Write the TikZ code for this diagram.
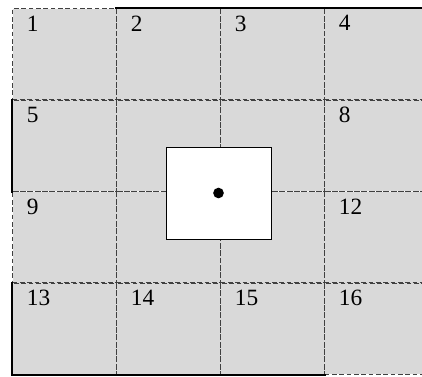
\documentclass[tikz,border=0pt]{standalone}
\usepackage{fontspec}
\setmainfont{Liberation Serif}

\tikzset{
  cell/.style={rectangle, draw=black!75, line width=0.75pt, dash pattern=on 3.5pt off 2pt, fill=black!15, minimum width=78pt, minimum height=68.6pt, inner sep=0pt, anchor=north west},
  num/.style={anchor=north west, inner sep=0pt, font=\fontsize{17.5}{20}\selectfont},
  edge/.style={line width=1.3pt, line cap=rect},
}

\begin{document}
\begin{tikzpicture}[x=0.75pt, y=-0.75pt]
\useasboundingbox (0,0) rectangle (422,376);
\clip (0,0) rectangle (422,376);

% grid of cells
\foreach \r in {0,...,3}
  \foreach \c in {0,...,3} {
    \pgfmathtruncatemacro\k{4*\r+\c+1}
    \node[cell] (c\k) at (12+104*\c, 8+91.5*\r) {};
  }

% cell numbers
\foreach \k in {1,2,3,4,5,8,9,12,13,14,15,16}
  \node[num] (n\k) at ([shift={(11pt,-5.5pt)}]c\k.north west) {\k};

% solid parts of the boundary
\draw[edge] (c2.north west) -- (c4.north east);
\draw[edge] (c5.north west) -- (c5.south west);
\draw[edge] (c13.north west) -- (c13.south west);
\draw[edge] (c13.south west) -- (c15.south east);

% centre square
\node[rectangle, draw, fill=white, minimum width=78.75pt, minimum height=69pt, inner sep=0pt] (hole) at (218.5,193) {};
\node[circle, fill, inner sep=0pt, minimum size=8pt] (pt) at (hole.center) {};
\end{tikzpicture}
\end{document}
